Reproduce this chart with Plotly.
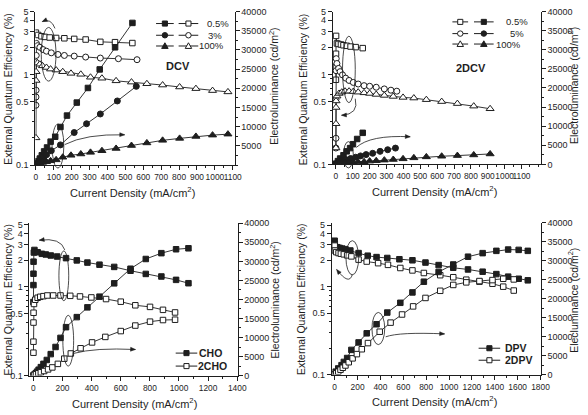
import plotly.graph_objects as go

W, H = 588, 415
INK = "#1e1e1e"
FONT = "Liberation Sans, Arial, Helvetica, sans-serif"

# ---------------- Panel 1 : DCV ----------------
dcv05_lum_x = [0, 5.5, 12.8, 21.9, 32.9, 45.7, 62.2, 82.3, 107.9, 137.1, 173.7, 228.5, 290.7, 356.5, 442.4, 539.3]
dcv05_lum = [170, 509, 1017, 1695, 2543, 3560, 4577, 6102, 7373, 9916, 12882, 16272, 20086, 24917, 30680, 37036]
dcv05_eqe_x = [0, 13, 31, 49, 77, 113, 159, 214, 278, 360, 442, 539]
dcv05_eqe = [2.92, 2.75, 2.66, 2.62, 2.58, 2.55, 2.53, 2.49, 2.45, 2.31, 2.29, 2.24]

dcv3_lum_x = [0, 7, 16, 27, 42, 60, 86, 137, 214, 283, 360, 455, 561]
dcv3_lum = [0, 339, 763, 1271, 1865, 2712, 3729, 5255, 8475, 10763, 13306, 16696, 20510]
dcv3_eqe_x = [0.2, 0.5, 1, 2, 3, 9, 22, 40, 59, 86, 123, 159, 214, 278, 360, 461, 565]
dcv3_eqe = [0.459, 0.566, 0.673, 1.633, 2.22, 2.095, 2.01, 1.897, 1.82, 1.746, 1.675, 1.633, 1.606, 1.567, 1.528, 1.503, 1.466]

dcv100_lum_x = [0, 9, 22, 37, 59, 82, 113, 150, 196, 251, 305, 369, 448, 534, 620, 708, 803, 894, 987, 1073]
dcv100_lum = [170, 339, 509, 678, 848, 1102, 1356, 2034, 2543, 2882, 3305, 3729, 4322, 5085, 5763, 6441, 6950, 7458, 7797, 8051]
dcv100_eqe_x = [0.2, 0.5, 1, 2, 9, 22, 37, 59, 82, 113, 150, 196, 251, 305, 369, 448, 534, 620, 708, 803, 894, 987, 1073]
dcv100_eqe = [0.200, 0.863, 1.079, 1.384, 1.350, 1.306, 1.253, 1.202, 1.153, 1.125, 1.079, 1.035, 1.010, 0.937, 0.914, 0.855, 0.828, 0.794, 0.768, 0.731, 0.701, 0.667, 0.645]

# ---------------- Panel 2 : 2DCV ----------------
d2cv05_lum_x = [0, 12, 25, 45, 64, 84, 101, 126, 159]
d2cv05_lum = [170, 851, 1532, 2383, 3404, 4255, 5276, 6638, 8255]
d2cv05_eqe_x = [0.1, 0.3, 0.6, 1, 6, 15, 30, 45, 64, 87, 117, 159]
d2cv05_eqe = [0.872, 1.216, 1.697, 2.68, 2.21, 2.18, 2.15, 2.11, 2.08, 2.04, 2.01, 1.96]

d2cv5_lum_x = [0, 19, 39, 62, 87, 117, 146, 179, 218, 262, 307, 353]
d2cv5_lum = [170, 511, 851, 1191, 1532, 1872, 2213, 2553, 2893, 3404, 3830, 4255]
d2cv5_eqe_x = [0.1, 0.3, 0.6, 1, 2, 6, 16, 25, 39, 58, 78, 103, 132, 167, 200, 239, 287, 326, 361]
d2cv5_eqe = [0.152, 0.195, 0.53, 1.10, 1.497, 1.322, 1.166, 1.073, 0.988, 0.909, 0.857, 0.815, 0.782, 0.750, 0.738, 0.720, 0.690, 0.668, 0.651]

d2cv100_lum_x = [0, 6, 19, 35, 54, 78, 103, 132, 167, 200, 239, 287, 340, 398, 462, 536, 627, 720, 817, 914]
d2cv100_lum = [0, 85, 170, 255, 340, 426, 511, 596, 681, 851, 936, 1106, 1277, 1447, 1702, 1957, 2128, 2298, 2468, 2723]
d2cv100_eqe_x = [0.1, 0.3, 0.6, 1, 6, 19, 35, 54, 78, 103, 132, 167, 200, 239, 287, 340, 398, 462, 536, 627, 720, 817, 914]
d2cv100_eqe = [0.152, 0.283, 0.429, 0.507, 0.574, 0.614, 0.635, 0.651, 0.651, 0.645, 0.635, 0.624, 0.614, 0.599, 0.584, 0.569, 0.555, 0.546, 0.524, 0.499, 0.474, 0.444, 0.415]

# ---------------- Panel 3 : CHO / 2CHO ----------------
cho_lum_x = [0, 7, 16, 25, 36, 51, 69, 92, 119, 152, 186, 224, 298, 371, 454, 555, 667, 772, 879, 980, 1065]
cho_lum = [0, 256, 597, 1024, 1535, 2218, 3071, 4094, 5630, 7506, 9895, 12710, 15354, 17913, 20728, 24225, 28064, 30623, 32158, 33182, 33438]
cho_eqe_x = [0.1, 0.3, 0.6, 1, 3, 7, 29, 58, 85, 119, 163, 224, 298, 371, 454, 555, 667, 772, 879, 980, 1065]
cho_eqe = [0.675, 1.048, 1.408, 1.925, 2.44, 2.61, 2.46, 2.36, 2.32, 2.26, 2.20, 2.11, 1.99, 1.88, 1.78, 1.68, 1.52, 1.40, 1.31, 1.20, 1.10]

cho2_lum_x = [0, 7, 18, 34, 51, 74, 101, 130, 168, 212, 257, 324, 403, 494, 600, 700, 801, 890, 973]
cho2_lum = [0, 171, 341, 597, 853, 1194, 1621, 2133, 3071, 4436, 5800, 7165, 8701, 10151, 11686, 13137, 14160, 14586, 14672]
cho2_eqe_x = [0.1, 0.3, 0.6, 1, 4, 13, 29, 47, 69, 96, 136, 186, 253, 320, 398, 499, 600, 700, 801, 890, 973]
cho2_eqe = [0.181, 0.241, 0.396, 0.511, 0.642, 0.716, 0.754, 0.773, 0.786, 0.800, 0.800, 0.800, 0.793, 0.780, 0.760, 0.729, 0.681, 0.620, 0.595, 0.551, 0.515]

# ---------------- Panel 4 : DPV / 2DPV ----------------
dpv_lum_x = [0, 9, 31, 60, 80, 109, 146, 209, 280, 366, 460, 574, 680, 780, 909, 1037, 1166, 1294, 1414, 1517, 1609, 1689]
dpv_lum = [86, 771, 1627, 2484, 3341, 4368, 6509, 8479, 10878, 13276, 16359, 18929, 21669, 24496, 27065, 29035, 31091, 32033, 32633, 32975, 32890, 32633]
dpv_eqe_x = [0, 1, 3, 23, 43, 66, 94, 137, 209, 289, 366, 460, 566, 680, 794, 909, 1037, 1166, 1294, 1414, 1517, 1609, 1689]
dpv_eqe = [3.33, 3.05, 2.85, 2.81, 2.76, 2.71, 2.67, 2.58, 2.41, 2.25, 2.17, 2.12, 2.05, 1.995, 1.88, 1.76, 1.64, 1.57, 1.48, 1.39, 1.30, 1.23, 1.18]

dpv2_lum_x = [0, 14, 31, 51, 71, 94, 123, 157, 194, 237, 291, 394, 489, 589, 686, 794, 923, 1037, 1151, 1266, 1380, 1474, 1566]
dpv2_lum = [0, 343, 771, 1285, 1799, 2398, 3255, 4283, 5396, 6681, 8308, 11306, 13704, 15845, 17987, 20213, 22098, 23639, 24325, 24667, 24924, 25267, 25095]
dpv2_eqe_x = [0, 2, 14, 34, 54, 80, 109, 146, 209, 280, 380, 466, 574, 680, 780, 923, 1037, 1151, 1266, 1380, 1474, 1566]
dpv2_eqe = [2.93, 2.58, 2.47, 2.41, 2.37, 2.33, 2.27, 2.21, 2.03, 1.93, 1.85, 1.77, 1.63, 1.53, 1.43, 1.35, 1.28, 1.20, 1.14, 1.08, 1.00, 0.903]

# tick labels
eqe_ticks = [0.1, 0.5, 1, 2, 3, 4, 5]
eqe_ticktext = ["0.1", "0.5", "1", "2", "3", "4", "5"]
eqe_minor = [0.2, 0.3, 0.4, 0.6, 0.7, 0.8, 0.9]

fig = go.Figure()

SIZES = {"square": 5.5, "circle": 6, "triangle-up": 7}


def series(x, y, xa, ya, sym, filled):
    fig.add_trace(go.Scatter(
        x=x, y=y, xaxis=xa, yaxis=ya, mode="lines+markers",
        line=dict(color=INK, width=0.9),
        marker=dict(symbol=sym, size=SIZES[sym], color=INK if filled else "white",
                    line=dict(color=INK, width=1)),
        showlegend=False, hoverinfo="skip"))


# panel 1 (x, y/y2)
series(dcv05_eqe_x, dcv05_eqe, "x", "y", "square", False)
series(dcv3_eqe_x, dcv3_eqe, "x", "y", "circle", False)
series(dcv100_eqe_x, dcv100_eqe, "x", "y", "triangle-up", False)
series(dcv05_lum_x, dcv05_lum, "x", "y2", "square", True)
series(dcv3_lum_x, dcv3_lum, "x", "y2", "circle", True)
series(dcv100_lum_x, dcv100_lum, "x", "y2", "triangle-up", True)
# panel 2 (x2, y3/y4)
series(d2cv05_eqe_x, d2cv05_eqe, "x2", "y3", "square", False)
series(d2cv5_eqe_x, d2cv5_eqe, "x2", "y3", "circle", False)
series(d2cv100_eqe_x, d2cv100_eqe, "x2", "y3", "triangle-up", False)
series(d2cv05_lum_x, d2cv05_lum, "x2", "y4", "square", True)
series(d2cv5_lum_x, d2cv5_lum, "x2", "y4", "circle", True)
series(d2cv100_lum_x, d2cv100_lum, "x2", "y4", "triangle-up", True)
# panel 3 (x3, y5/y6)
series(cho_eqe_x, cho_eqe, "x3", "y5", "square", True)
series(cho2_eqe_x, cho2_eqe, "x3", "y5", "square", False)
series(cho_lum_x, cho_lum, "x3", "y6", "square", True)
series(cho2_lum_x, cho2_lum, "x3", "y6", "square", False)
# panel 4 (x4, y7/y8)
series(dpv_eqe_x, dpv_eqe, "x4", "y7", "square", True)
series(dpv2_eqe_x, dpv2_eqe, "x4", "y7", "square", False)
series(dpv_lum_x, dpv_lum, "x4", "y8", "square", True)
series(dpv2_lum_x, dpv2_lum, "x4", "y8", "square", False)

# ---------------- axes ----------------
panels = [
    dict(xd=(34, 237), yd=(6.7, 164), xr=[-3, 1110], dt=100, xmax=1100, lr=[-1, 0.699], r0=5000),
    dict(xd=(337, 549), yd=(6.7, 163.3), xr=[-19, 1214], dt=100, xmax=1100, lr=[-1, 0.699], r0=0),
    dict(xd=(28, 240), yd=(223.7, 379.7), xr=[-27, 1402], dt=200, xmax=1400, lr=[-1, 0.717], r0=0),
    dict(xd=(336, 549), yd=(223.3, 378.7), xr=[-26, 1802], dt=200, xmax=1800, lr=[-1, 0.725], r0=0),
]

tickfont = dict(family=FONT, size=9, color=INK)
xtickfont = dict(family=FONT, size=8.4, color=INK)
common = dict(showline=True, linecolor=INK, linewidth=1, showgrid=False, zeroline=False,
              tickcolor=INK, tickwidth=1, tickangle=0)

layout = dict(
    width=W, height=H, margin=dict(l=0, r=0, t=0, b=0),
    paper_bgcolor="white", plot_bgcolor="white", showlegend=False,
    font=dict(family=FONT, color=INK),
)

for i, p in enumerate(panels, start=1):
    xk = "xaxis" if i == 1 else f"xaxis{i}"
    xname = "x" if i == 1 else f"x{i}"
    yl = 2 * i - 1
    yr = 2 * i
    ylk = "yaxis" if yl == 1 else f"yaxis{yl}"
    ylname = "y" if yl == 1 else f"y{yl}"
    yrk = f"yaxis{yr}"
    xdom = [p["xd"][0] / W, p["xd"][1] / W]
    ydom = [1 - p["yd"][1] / H, 1 - p["yd"][0] / H]
    xt = list(range(0, p["xmax"] + 1, p["dt"]))
    layout[xk] = dict(domain=xdom, anchor=ylname, range=p["xr"], tickmode="array",
                      tickvals=xt, ticktext=[str(v) for v in xt],
                      ticks="outside", ticklen=4, tickfont=xtickfont,
                      minor=dict(tick0=0, dtick=p["dt"] / 2, ticks="outside", ticklen=2,
                                 tickcolor=INK),
                      **common)
    # top border with inward ticks
    layout[f"xaxis{4 + i}"] = dict(overlaying=xname, anchor=ylname, side="top",
                                   range=p["xr"], tickmode="linear", tick0=0, dtick=p["dt"] / 2,
                                   ticks="inside", ticklen=3, showticklabels=False,
                                   **{k: v for k, v in common.items() if k != "tickangle"})
    layout[ylk] = dict(domain=ydom, anchor=xname, type="log", range=p["lr"],
                       tickmode="array", tickvals=eqe_ticks, ticktext=eqe_ticktext,
                       ticks="outside", ticklen=4, tickfont=tickfont,
                       minor=dict(tickvals=eqe_minor, ticks="outside", ticklen=2, tickcolor=INK),
                       **common)
    rt = list(range(p["r0"], 40001, 5000))
    layout[yrk] = dict(overlaying=ylname, anchor=xname, side="right", range=[0, 40000],
                       tickmode="array", tickvals=rt, ticktext=[str(v) for v in rt],
                       ticks="outside", ticklen=4, tickfont=tickfont,
                       minor=dict(tick0=0, dtick=2500, ticks="outside", ticklen=2, tickcolor=INK),
                       **common)

fig.update_layout(**layout)

# ---------------- annotations & decorations ----------------
annotations = []
shapes = []


def text(x, y, s, size=10, angle=0, bold=False):
    annotations.append(dict(
        x=x / W, y=1 - y / H, xref="paper", yref="paper", text=f"<b>{s}</b>" if bold else s,
        showarrow=False, textangle=angle, xanchor="center", yanchor="middle",
        font=dict(family=FONT, size=size, color=INK)))


EQE_T = "External Quantum Efficiency (%)"
EL_T = "Electroluminance (cd/m<sup>2</sup>)"
CD_T = "Current Density (mA/cm<sup>2</sup>)"

text(6, 86, EQE_T, 10.5, -90)
text(307, 86, EQE_T, 10.5, -90)
text(6, 302, EQE_T, 10.5, -90)
text(304, 301, EQE_T, 10.5, -90)

text(277, 83, EL_T, 10.5, -90)
text(582, 83, EL_T, 10.5, -90)
text(278, 302, EL_T, 10.5, -90)
text(582, 303, "Elecluminance (cd/m<sup>2</sup>)", 10.5, -90)

text(133, 192, CD_T, 11)
text(441, 191, CD_T, 11)
text(135, 408, CD_T, 11)
text(441, 406, CD_T, 11)

text(179, 63, "DCV", 11, bold=True)
text(478, 65, "2DCV", 11, bold=True)


def ellipse(cx, cy, w, h):
    shapes.append(dict(type="circle", xref="paper", yref="paper",
                       x0=(cx - w / 2) / W, x1=(cx + w / 2) / W,
                       y0=1 - (cy + h / 2) / H, y1=1 - (cy - h / 2) / H,
                       line=dict(color=INK, width=0.8)))


def curved_arrow(x0, y0, cx, cy, x1, y1):
    path = f"M {x0 / W},{1 - y0 / H} Q {cx / W},{1 - cy / H} {x1 / W},{1 - y1 / H}"
    shapes.append(dict(type="path", xref="paper", yref="paper", path=path,
                       line=dict(color=INK, width=0.8)))
    dx, dy = x1 - cx, y1 - cy
    ln = (dx * dx + dy * dy) ** 0.5
    ux, uy = dx / ln, dy / ln
    bx, by = x1 - 5 * ux, y1 - 5 * uy
    nx, ny = -uy, ux
    pts = [(x1, y1), (bx + 2 * nx, by + 2 * ny), (bx - 2 * nx, by - 2 * ny)]
    p = "M " + " L ".join(f"{x / W},{1 - y / H}" for x, y in pts) + " Z"
    shapes.append(dict(type="path", xref="paper", yref="paper", path=p,
                       fillcolor=INK, line=dict(color=INK, width=0.5)))


ellipse(47.5, 50.5, 15, 55)
ellipse(57, 144.5, 12, 45)
curved_arrow(54, 24, 50, 13, 41, 17)
curved_arrow(64, 143, 85, 132, 125, 133)

ellipse(353.5, 66, 13, 68)
ellipse(353, 153.5, 10, 27)
curved_arrow(360, 96, 364, 112, 346, 113)
curved_arrow(361, 146, 375, 133, 416, 135)

ellipse(63, 277.5, 10, 51)
ellipse(67.5, 344, 11, 52)
curved_arrow(64, 251, 60, 238, 38, 241)
curved_arrow(73, 357, 95, 351, 136, 353)

ellipse(357, 259, 13, 35)
ellipse(383.5, 331.5, 13, 33)
curved_arrow(357, 276, 354, 288, 341, 271)
curved_arrow(391, 340, 405, 335, 451, 337)


def sample(cx, cy, sym, filled, half=10):
    shapes.append(dict(type="line", xref="paper", yref="paper",
                       x0=(cx - half) / W, x1=(cx + half) / W, y0=1 - cy / H, y1=1 - cy / H,
                       line=dict(color=INK, width=1)))
    fill = INK if filled else "white"
    if sym == "square":
        r = 2.6
        shapes.append(dict(type="rect", xref="paper", yref="paper",
                           x0=(cx - r) / W, x1=(cx + r) / W, y0=1 - (cy + r) / H, y1=1 - (cy - r) / H,
                           fillcolor=fill, line=dict(color=INK, width=1)))
    elif sym == "circle":
        r = 2.8
        shapes.append(dict(type="circle", xref="paper", yref="paper",
                           x0=(cx - r) / W, x1=(cx + r) / W, y0=1 - (cy + r) / H, y1=1 - (cy - r) / H,
                           fillcolor=fill, line=dict(color=INK, width=1)))
    else:
        pts = [(cx, cy - 3.3), (cx + 3.3, cy + 2.5), (cx - 3.3, cy + 2.5)]
        p = "M " + " L ".join(f"{x / W},{1 - y / H}" for x, y in pts) + " Z"
        shapes.append(dict(type="path", xref="paper", yref="paper", path=p,
                           fillcolor=fill, line=dict(color=INK, width=1)))


# legend panel 1
for (yy, sym, lab, lx) in [(19, "square", "0.5%", 220), (31, "circle", "3%", 217), (42, "triangle-up", "100%", 213)]:
    sample(166, yy, sym, True, 9)
    sample(190, yy, sym, False, 10)
    text(lx, yy, lab, 9.5)
# legend panel 2
for (yy, sym, lab, lx) in [(17.3, "square", "0.5%", 525), (29.3, "circle", "5%", 525), (40, "triangle-up", "100%", 516)]:
    sample(467, yy, sym, False, 8)
    sample(491, yy, sym, True, 10)
    text(lx, yy, lab, 9.5)
# legend panel 3
sample(188, 356.7, "square", True, 11)
text(212.5, 356.7, "CHO", 10.5, bold=True)
sample(188, 370, "square", False, 11)
text(215, 370, "2CHO", 10.5, bold=True)
# legend panel 4
sample(496.7, 351.7, "square", True, 11)
text(523.5, 351.7, "DPV", 10.5, bold=True)
sample(496.7, 364, "square", False, 11)
text(526.5, 364, "2DPV", 10.5, bold=True)

fig.update_layout(annotations=annotations, shapes=shapes)

fig.write_html("out.html")
